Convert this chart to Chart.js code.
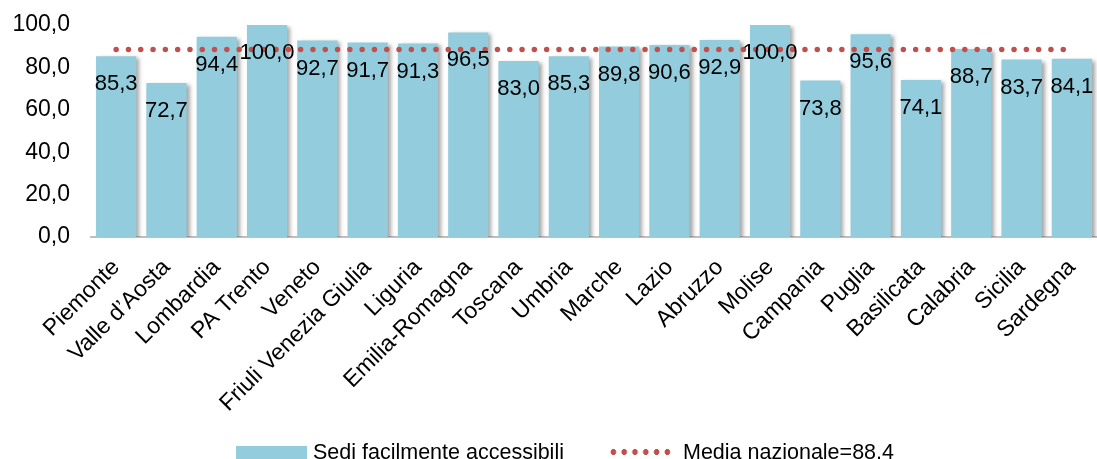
<!DOCTYPE html>
<html>
<head>
<meta charset="utf-8">
<script src="https://cdn.jsdelivr.net/npm/chart.js@4.4.1/dist/chart.umd.min.js"></script>
<style>
  html, body { margin: 0; padding: 0; background: #fff; }
  #wrap { position: relative; width: 1097px; height: 459px; overflow: hidden; }
  #legend {
    position: absolute; left: 0; top: 440px; width: 1097px;
    font-family: "Liberation Sans", Arial, sans-serif; font-size: 21.5px; color: #000;
  }
  .lg-item { position: absolute; top: 0; display: flex; align-items: center; height: 24px; white-space: nowrap; }
  .lg-box { width: 71px; height: 13px; background: #93CDDD; margin-right: 6px; }
  .lg-dots { width: 65px; height: 6px; margin-right: 10px;
    background-image: radial-gradient(circle, #C0504D 2.7px, transparent 3.1px);
    background-size: 10.8px 6px; background-repeat: repeat-x; }
</style>
</head>
<body>
<div id="wrap">
  <canvas id="chart" width="1097" height="459"></canvas>
  <div id="legend">
    <div class="lg-item" style="left:236px"><div class="lg-box"></div>Sedi facilmente accessibili</div>
    <div class="lg-item" style="left:608px"><div class="lg-dots"></div>Media nazionale=88.4</div>
  </div>
</div>
<script>
/* ── Dati ─────────────────────────────────────────────────── */
const regioni = ['Piemonte', 'Valle d\u2019Aosta', 'Lombardia', 'PA Trento', 'Veneto',
  'Friuli Venezia Giulia', 'Liguria', 'Emilia-Romagna', 'Toscana', 'Umbria', 'Marche',
  'Lazio', 'Abruzzo', 'Molise', 'Campania', 'Puglia', 'Basilicata', 'Calabria',
  'Sicilia', 'Sardegna'];
const sediAccessibili = [85.3, 72.7, 94.4, 100.0, 92.7, 91.7, 91.3, 96.5, 83.0, 85.3,
  89.8, 90.6, 92.9, 100.0, 73.8, 95.6, 74.1, 88.7, 83.7, 84.1];
const mediaNazionale = 88.4;
const yTicks = [0, 20, 40, 60, 80, 100];

const FONT = '"Liberation Sans", Arial, sans-serif';
const fmt = v => v.toFixed(1).replace('.', ',');

/* ── Ombra barre ─────────────────────────────────────────── */
const barShadow = {
  id: 'barShadow',
  beforeDatasetDraw(chart, args) {
    if (args.meta.type !== 'bar') return;
    const ctx = chart.ctx;
    ctx.save();
    ctx.shadowColor = 'rgba(0,0,0,0.35)';
    ctx.shadowOffsetX = 3;
    ctx.shadowOffsetY = 2;
    ctx.shadowBlur = 4;
  },
  afterDatasetDraw(chart, args) {
    if (args.meta.type !== 'bar') return;
    chart.ctx.restore();
  }
};

/* ── Etichette valori ────────────────────────────────────── */
const valueLabels = {
  id: 'valueLabels',
  afterDraw(chart) {
    const ctx = chart.ctx;
    const meta = chart.getDatasetMeta(0);
    ctx.save();
    ctx.font = '22px ' + FONT;
    ctx.fillStyle = '#000';
    ctx.textAlign = 'center';
    ctx.textBaseline = 'middle';
    meta.data.forEach((bar, i) => {
      ctx.fillText(fmt(sediAccessibili[i]), bar.x, bar.y + 28);
    });
    ctx.restore();
  }
};

new Chart(document.getElementById('chart'), {
  data: {
    labels: regioni,
    datasets: [
      {
        type: 'bar',
        label: 'Sedi facilmente accessibili',
        data: sediAccessibili,
        backgroundColor: '#93CDDD',
        barPercentage: 0.8,
        categoryPercentage: 1,
        order: 1
      },
      {
        type: 'line',
        label: 'Media nazionale=88.4',
        data: regioni.map(() => mediaNazionale),
        borderColor: '#C0504D',
        borderWidth: 5.5,
        borderDash: [0, 12.3],
        borderCapStyle: 'round',
        pointRadius: 0,
        fill: false,
        order: 0
      }
    ]
  },
  options: {
    responsive: false,
    animation: false,
    events: [],
    layout: { padding: { top: 25, right: 0, left: 0, bottom: 0 } },
    plugins: { legend: { display: false }, tooltip: { enabled: false } },
    scales: {
      y: {
        min: 0, max: 100,
        afterBuildTicks: s => { s.ticks = yTicks.map(v => ({ value: v })); },
        afterFit: s => { s.width = 91; s.paddingTop = 0; s.paddingBottom = 0; },
        grid: { display: false, drawTicks: false },
        border: { display: false },
        ticks: { font: { size: 23, family: FONT }, color: '#000', padding: 21, callback: v => fmt(v) }
      },
      x: {
        afterFit: s => { s.height = 222; s.paddingRight = 0; },
        grid: { display: false, drawTicks: false },
        border: { display: true, color: '#BFBFBF', width: 2 },
        ticks: { font: { size: 23, family: FONT }, color: '#000', maxRotation: 45, minRotation: 45, padding: 17, autoSkip: false }
      }
    }
  },
  plugins: [barShadow, valueLabels]
});
</script>
</body>
</html>
